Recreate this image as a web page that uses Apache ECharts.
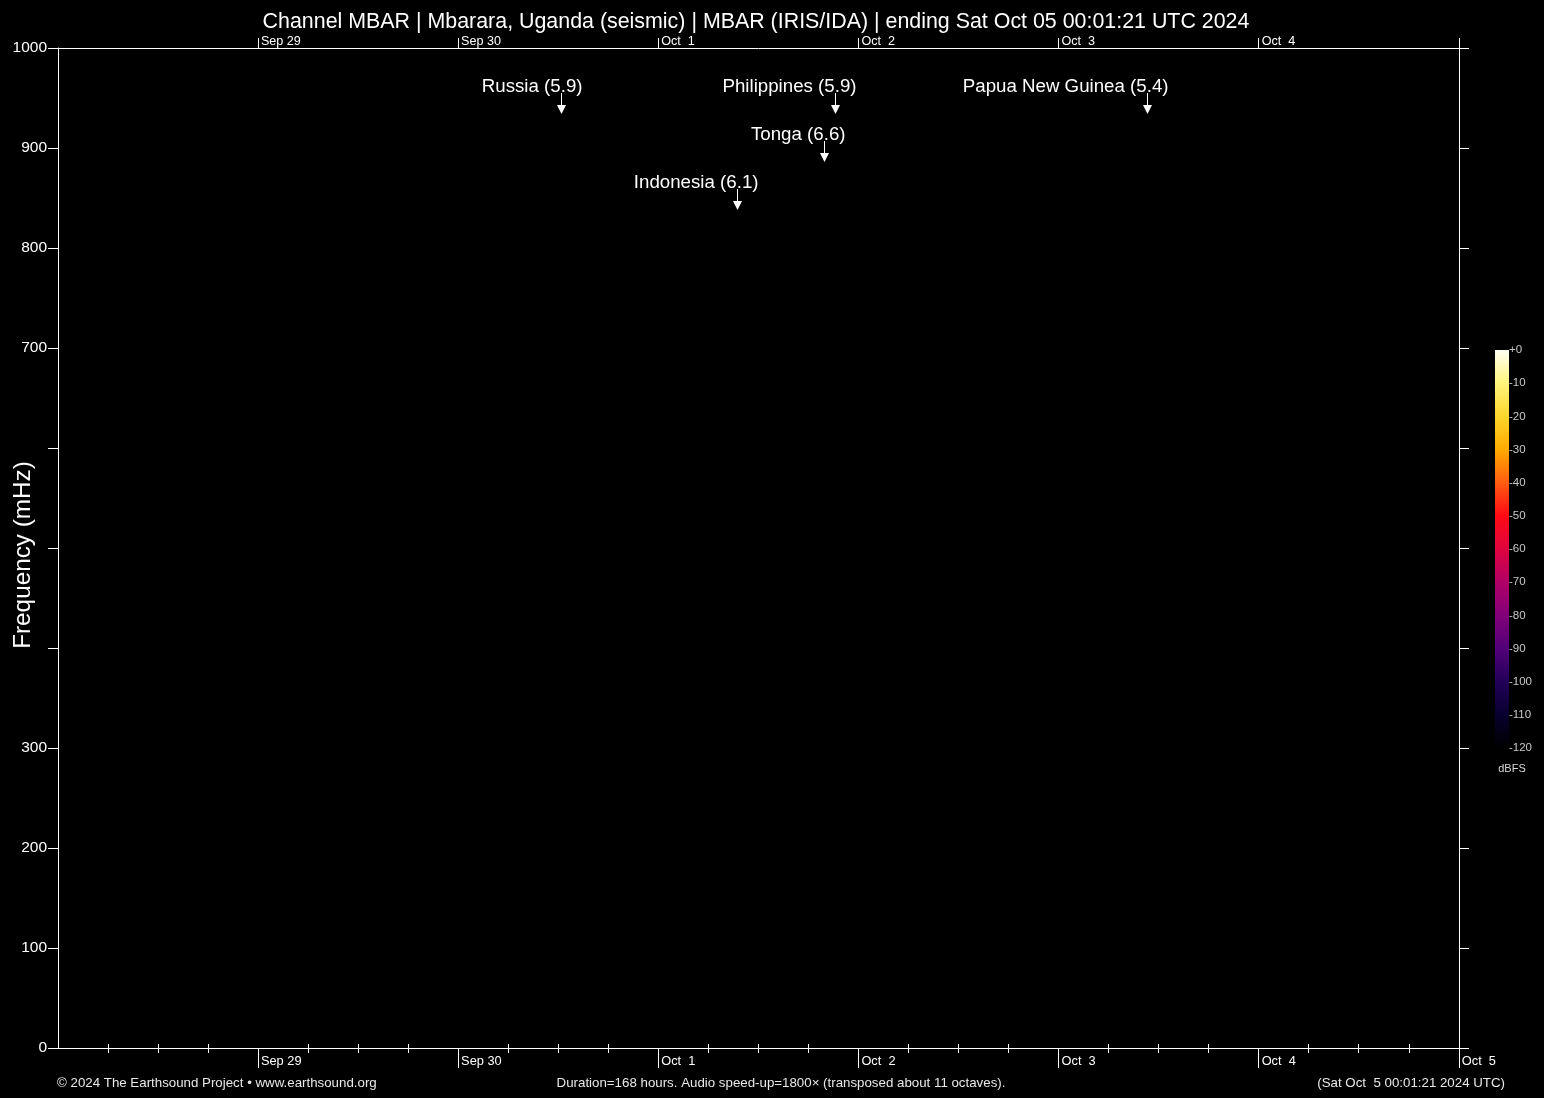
<!DOCTYPE html>
<html>
<head>
<meta charset="utf-8">
<script src="https://cdn.jsdelivr.net/npm/echarts@6/dist/echarts.min.js"></script>
<style>
html,body{margin:0;padding:0;background:#000;}
#chart{width:1544px;height:1098px;}
</style>
</head>
<body>
<div id="chart"></div>
<script>
// ---- data ----
const titleText = 'Channel MBAR | Mbarara, Uganda (seismic) | MBAR (IRIS/IDA) | ending Sat Oct 05 00:01:21 UTC 2024';
const startTimeStr = '2024-09-28T00:01:21Z';
const endTimeStr = '2024-10-05T00:01:21Z';
const dayTickDates = ['2024-09-29','2024-09-30','2024-10-01','2024-10-02','2024-10-03','2024-10-04','2024-10-05'];
const dayTickLabels = ['Sep 29','Sep 30','Oct  1','Oct  2','Oct  3','Oct  4','Oct  5'];
const minorTickHours = [6, 12, 18];
const freqLabelValues = [0, 100, 200, 300, 700, 800, 900, 1000];
const eventNames = ['Russia', 'Indonesia', 'Tonga', 'Philippines', 'Papua New Guinea'];
const eventMagnitudes = ['5.9', '6.1', '6.6', '5.9', '5.4'];
const eventTimes = ['2024-09-30T12:20:00Z', '2024-10-01T09:26:00Z', '2024-10-01T19:53:00Z', '2024-10-01T21:12:00Z', '2024-10-03T10:36:00Z'];
const eventFreqs = [934, 838, 886, 934, 934];
const colorbarColors = ['#fffff4', '#fff47c', '#ffd62c', '#ffaa00', '#ff5c10', '#ff0a14', '#e0043e', '#b00066', '#820078', '#52007a', '#220058', '#08002e', '#000000'];
const footerLeft = '\u00a9 2024 The Earthsound Project \u2022 www.earthsound.org';
const footerMid = 'Duration=168 hours. Audio speed-up=1800\u00d7 (transposed about 11 octaves).';
const footerRight = '(Sat Oct  5 00:01:21 2024 UTC)';

// ---- derived ----
const T0 = Date.parse(startTimeStr);
const T1 = Date.parse(endTimeStr);
const dayTickValues = dayTickDates.map(d => Date.parse(d + 'T00:00:00Z'));
const minorTickValues = [];
[Date.parse('2024-09-28T00:00:00Z')].concat(dayTickValues.slice(0, -1)).forEach(d => {
  minorTickHours.forEach(h => minorTickValues.push(d + h * 3600000));
});
const labelFor = v => { const i = dayTickValues.indexOf(v); return i >= 0 ? dayTickLabels[i] : ''; };
const eventData = eventTimes.map((t, i) => [Date.parse(t), eventFreqs[i]]);

const FONT = '"Liberation Sans", Arial, Helvetica, sans-serif';
const W = '#ffffff';

const chart = echarts.init(document.getElementById('chart'), null, {renderer: 'canvas'});

const baseX = {
  type: 'value', gridIndex: 0, min: T0, max: T1,
  splitLine: {show: false},
  axisLine: {show: false}
};

const option = {
  backgroundColor: '#000',
  animation: false,
  textStyle: {fontFamily: FONT},
  grid: [
    {left: 58, right: 85, top: 48, bottom: 50, containLabel: false, outerBoundsMode: 'none'},
    {left: 1495, top: 350, width: 14, height: 398, show: true, borderWidth: 0, containLabel: false, outerBoundsMode: 'none',
     backgroundColor: {type: 'linear', x: 0, y: 0, x2: 0, y2: 1,
       colorStops: colorbarColors.map((c, i) => ({offset: i / (colorbarColors.length - 1), color: c}))}}
  ],
  xAxis: [
    Object.assign({}, baseX, {
      position: 'bottom',
      axisLine: {show: true, onZero: false, lineStyle: {color: W, width: 1}},
      axisTick: {show: true, length: 20, customValues: dayTickValues, lineStyle: {color: W}},
      axisLabel: {show: true, customValues: dayTickValues, formatter: labelFor, align: 'left',
        padding: [0, 0, 0, 3], margin: 7, fontSize: 12.8, color: W, fontFamily: FONT}
    }),
    Object.assign({}, baseX, {
      position: 'bottom',
      axisTick: {show: true, length: 5, customValues: minorTickValues, lineStyle: {color: W}},
      axisLabel: {show: false}
    }),
    Object.assign({}, baseX, {
      position: 'top',
      axisLine: {show: true, onZero: false, lineStyle: {color: W, width: 1}},
      axisTick: {show: true, length: 10, customValues: dayTickValues, lineStyle: {color: W}},
      axisLabel: {show: true, customValues: dayTickValues.slice(0, -1), formatter: labelFor, align: 'left',
        padding: [0, 0, 0, 3], margin: 0, fontSize: 12.6, color: W, fontFamily: FONT}
    }),
    Object.assign({}, baseX, {
      position: 'top',
      axisTick: {show: true, length: 4, customValues: minorTickValues, lineStyle: {color: W}},
      axisLabel: {show: false}
    }),
    {type: 'value', gridIndex: 1, min: 0, max: 1, show: false}
  ],
  yAxis: [
    {
      type: 'value', gridIndex: 0, position: 'left', min: 0, max: 1000, interval: 100,
      name: 'Frequency (mHz)', nameLocation: 'middle', nameGap: 23, nameMoveOverlap: false,
      nameTextStyle: {color: W, fontSize: 24.3, fontFamily: FONT, padding: [0, 14, 0, 0]},
      splitLine: {show: false},
      axisLine: {show: true, onZero: false, lineStyle: {color: W, width: 1}},
      axisTick: {show: true, length: 10, lineStyle: {color: W}},
      axisLabel: {show: true, customValues: freqLabelValues, margin: 11, fontSize: 15.5, color: W, fontFamily: FONT,
        padding: [2, 0, 0, 0], formatter: v => String(v)}
    },
    {
      type: 'value', gridIndex: 0, position: 'right', min: 0, max: 1000, interval: 100,
      splitLine: {show: false},
      axisLine: {show: true, onZero: false, lineStyle: {color: W, width: 1}},
      axisTick: {show: true, length: 10, lineStyle: {color: W}},
      axisLabel: {show: false}
    },
    {
      type: 'value', gridIndex: 1, position: 'right', min: -120, max: 0, interval: 10,
      splitLine: {show: false},
      axisLine: {show: false},
      axisTick: {show: false},
      axisLabel: {show: true, margin: 0, fontSize: 11.5, color: '#c8c8c8', fontFamily: FONT,
        padding: [2, 0, 0, 0], formatter: v => (v === 0 ? '+0' : String(v))}
    }
  ],
  graphic: [
    {type: 'text', x: 756, y: 22, style: {text: titleText, align: 'center', verticalAlign: 'middle', fill: W, font: '21.4px ' + FONT}},
    {type: 'text', x: 1512, y: 769, style: {text: 'dBFS', align: 'center', verticalAlign: 'middle', fill: '#d8d8d8', font: '11px ' + FONT}},
    {type: 'text', x: 57, y: 1083, style: {text: footerLeft, align: 'left', verticalAlign: 'middle', fill: '#e8e8e8', font: '13.3px ' + FONT}},
    {type: 'text', x: 781, y: 1083, style: {text: footerMid, align: 'center', verticalAlign: 'middle', fill: '#e8e8e8', font: '13.3px ' + FONT}},
    {type: 'text', x: 1505, y: 1083, style: {text: footerRight, align: 'right', verticalAlign: 'middle', fill: '#e8e8e8', font: '13.3px ' + FONT}}
  ],
  series: [
    {
      type: 'custom', xAxisIndex: 0, yAxisIndex: 0, clip: false,
      data: eventData,
      renderItem: function (params, api) {
        const p = api.coord([api.value(0), api.value(1)]);
        const x = Math.round(p[0]) + 0.5;
        const y = Math.round(p[1]);
        const i = params.dataIndex;
        return {
          type: 'group',
          children: [
            {type: 'line', shape: {x1: x, y1: y - 21, x2: x, y2: y - 6}, style: {stroke: W, lineWidth: 1}},
            {type: 'polygon', shape: {points: [[x - 4.5, y - 9], [x + 4.5, y - 9], [x, y]]}, style: {fill: W}},
            {type: 'text', style: {text: eventNames[i] + ' (' + eventMagnitudes[i] + ')', x: x + 21, y: y - 27,
              align: 'right', verticalAlign: 'middle', fill: W, font: '18.7px ' + FONT}}
          ]
        };
      }
    },
    {type: 'line', xAxisIndex: 4, yAxisIndex: 2, data: [], silent: true}
  ]
};
chart.setOption(option);
</script>
</body>
</html>
